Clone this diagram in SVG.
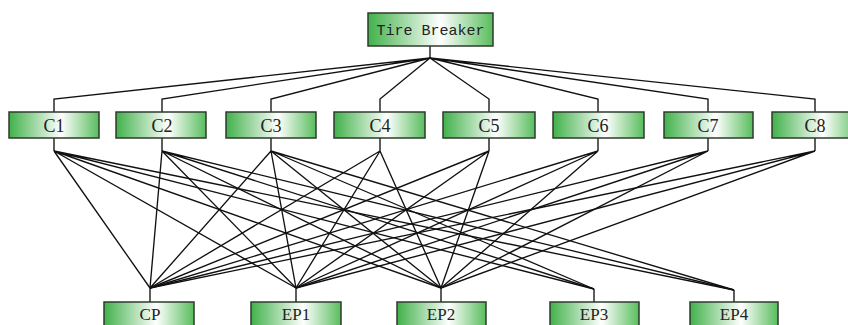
<svg xmlns="http://www.w3.org/2000/svg" width="848" height="325" viewBox="0 0 848 325">
<defs>
<linearGradient id="g" x1="0" y1="0" x2="1" y2="0">
<stop offset="0" stop-color="#41b14a"/>
<stop offset="0.58" stop-color="#ffffff"/>
<stop offset="1" stop-color="#58bd5c"/>
</linearGradient>
</defs>
<style>
.box{fill:url(#g);stroke:#2f3a2f;stroke-width:1.5}
.t{font-family:"Liberation Serif",serif;font-size:18px;fill:#222;text-anchor:middle}
.tb{font-family:"Liberation Serif",serif;font-size:17px;fill:#222;text-anchor:middle}
.tm{font-family:"Liberation Mono",monospace;font-size:15px;fill:#222;text-anchor:middle}
.c path{fill:none;stroke:#111;stroke-width:1.35}
</style>
<rect width="848" height="325" fill="#fff"/>
<g class="c" id="connectors">
<path d="M430 46V58"/>
<path d="M430 58L54 99V112M430 58L162 99V112M430 58L271 99V112M430 58L380 99V112M430 58L489 99V112M430 58L598 99V112M430 58L708 99V112M430 58L815 99V112"/>
<path d="M54 138V151M162 138V151M271 138V151M380 138V151M489 138V151M598 138V151M708 138V151M815 138V151"/>
<path d="M150 288V302M296 288V302M441 288V302M594 289V302M734 290V302"/>
<path d="M54 151L150 288M54 151L296 288M54 151L441 288M54 151L594 289M54 151L734 290"/>
<path d="M162 151L150 288M162 151L296 288M162 151L441 288M162 151L594 289M162 151L734 290"/>
<path d="M271 151L150 288M271 151L296 288M271 151L441 288M271 151L594 289M271 151L734 290"/>
<path d="M380 151L150 288M380 151L296 288M380 151L441 288"/>
<path d="M489 151L150 288M489 151L296 288M489 151L441 288"/>
<path d="M598 151L150 288M598 151L296 288M598 151L441 288"/>
<path d="M708 151L150 288M708 151L296 288M708 151L441 288"/>
<path d="M815 151L150 288M815 151L296 288M815 151L441 288"/>
</g>
<g id="tire-breaker"><rect class="box" x="368" y="13" width="125" height="33"/><text class="tm" x="430.5" y="35">Tire Breaker</text></g>
<g id="C1"><rect class="box" x="9" y="112" width="90" height="26"/><text class="t" x="54" y="132">C1</text></g>
<g id="C2"><rect class="box" x="116" y="112" width="90" height="26"/><text class="t" x="162" y="132">C2</text></g>
<g id="C3"><rect class="box" x="226" y="112" width="90" height="26"/><text class="t" x="271" y="132">C3</text></g>
<g id="C4"><rect class="box" x="334" y="112" width="91" height="26"/><text class="t" x="380" y="132">C4</text></g>
<g id="C5"><rect class="box" x="443" y="112" width="92" height="26"/><text class="t" x="489" y="132">C5</text></g>
<g id="C6"><rect class="box" x="553" y="112" width="91" height="26"/><text class="t" x="598" y="132">C6</text></g>
<g id="C7"><rect class="box" x="664" y="112" width="89" height="26"/><text class="t" x="708" y="132">C7</text></g>
<g id="C8"><rect class="box" x="772" y="112" width="88" height="26"/><text class="t" x="815" y="132">C8</text></g>
<g id="CP"><rect class="box" x="104" y="302" width="90" height="26"/><text class="tb" x="150" y="320">CP</text></g>
<g id="EP1"><rect class="box" x="251" y="302" width="90" height="26"/><text class="tb" x="296" y="320">EP1</text></g>
<g id="EP2"><rect class="box" x="397" y="302" width="89" height="26"/><text class="tb" x="441" y="320">EP2</text></g>
<g id="EP3"><rect class="box" x="550" y="302" width="89" height="26"/><text class="tb" x="594" y="320">EP3</text></g>
<g id="EP4"><rect class="box" x="690" y="302" width="88" height="26"/><text class="tb" x="734" y="320">EP4</text></g>
</svg>
